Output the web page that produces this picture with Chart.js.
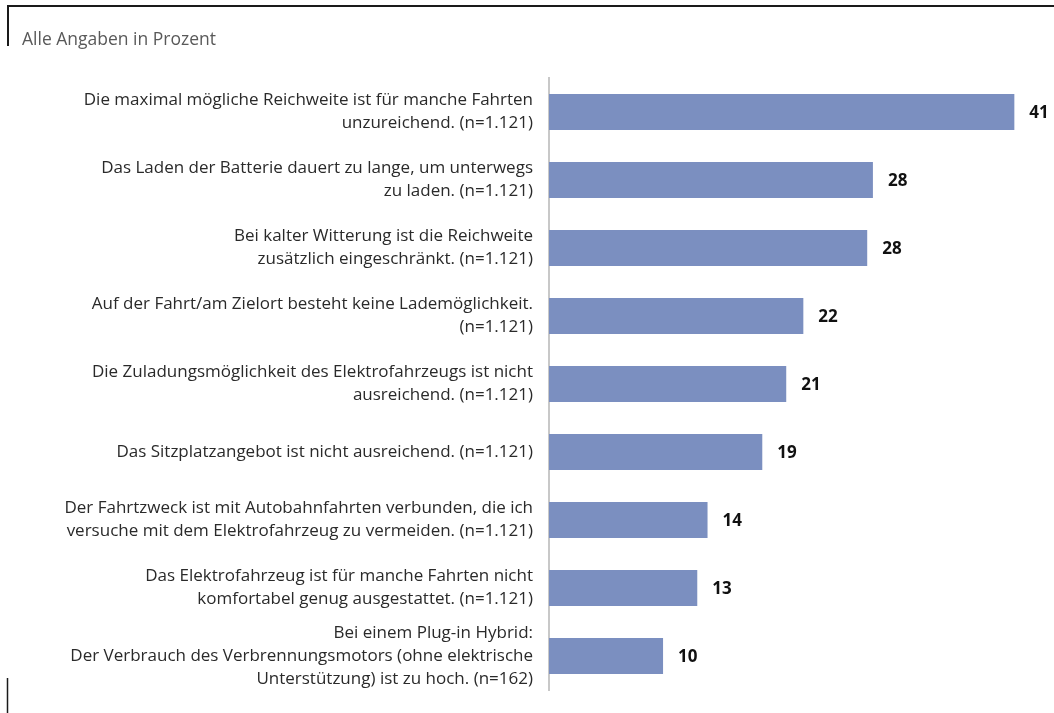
<!DOCTYPE html>
<html>
<head>
<meta charset="utf-8">
<script src="https://cdn.jsdelivr.net/npm/chart.js@4"></script>
<style>
  html, body { margin: 0; padding: 0; background: #fff; }
  #wrap { width: 1054px; height: 713px; position: relative; }
</style>
</head>
<body>
<div id="wrap"><canvas id="c" width="1054" height="713"></canvas></div>
<script>
const categories = [
  ["Die maximal mögliche Reichweite ist für manche Fahrten", "unzureichend. (n=1.121)"],
  ["Das Laden der Batterie dauert zu lange, um unterwegs", "zu laden. (n=1.121)"],
  ["Bei kalter Witterung ist die Reichweite", "zusätzlich eingeschränkt. (n=1.121)"],
  ["Auf der Fahrt/am Zielort besteht keine Lademöglichkeit.", "(n=1.121)"],
  ["Die Zuladungsmöglichkeit des Elektrofahrzeugs ist nicht", "ausreichend. (n=1.121)"],
  ["Das Sitzplatzangebot ist nicht ausreichend. (n=1.121)"],
  ["Der Fahrtzweck ist mit Autobahnfahrten verbunden, die ich", "versuche mit dem Elektrofahrzeug zu vermeiden. (n=1.121)"],
  ["Das Elektrofahrzeug ist für manche Fahrten nicht", "komfortabel genug ausgestattet. (n=1.121)"],
  ["Bei einem Plug-in Hybrid:", "Der Verbrauch des Verbrennungsmotors (ohne elektrische", "Unterstützung) ist zu hoch. (n=162)"]
];
const values = [40.8, 28.4, 27.9, 22.3, 20.8, 18.7, 13.9, 13.0, 10.0];
const valueLabels = ["41", "28", "28", "22", "21", "19", "14", "13", "10"];
const subtitle = "Alle Angaben in Prozent";

const framePlugin = {
  id: 'frame',
  beforeDraw(chart) {
    const ctx = chart.ctx;
    ctx.save();
    ctx.fillStyle = '#fff';
    ctx.fillRect(0, 0, chart.width, chart.height);
    ctx.strokeStyle = '#1a1a1a';
    ctx.lineWidth = 2;
    ctx.beginPath();
    ctx.moveTo(7, 6); ctx.lineTo(1054, 6);
    ctx.moveTo(8, 5); ctx.lineTo(8, 46);
    ctx.stroke();
    ctx.lineWidth = 1.5;
    ctx.beginPath();
    ctx.moveTo(7.5, 678); ctx.lineTo(7.5, 713);
    ctx.stroke();
    ctx.restore();
  }
};

const valueLabelPlugin = {
  id: 'valueLabels',
  afterDatasetsDraw(chart) {
    const ctx = chart.ctx;
    const meta = chart.getDatasetMeta(0);
    ctx.save();
    ctx.font = "bold 17px 'Open Sans'";
    ctx.fillStyle = '#111';
    ctx.textAlign = 'left';
    ctx.textBaseline = 'middle';
    meta.data.forEach((bar, i) => {
      ctx.fillText(valueLabels[i], bar.x + 15, bar.y + 1);
    });
    ctx.restore();
  }
};

new Chart(document.getElementById('c'), {
  type: 'bar',
  data: {
    labels: categories,
    datasets: [{
      data: values,
      backgroundColor: '#7b8fc0',
      borderWidth: 0,
      categoryPercentage: 1,
      barPercentage: 0.53
    }]
  },
  options: {
    indexAxis: 'y',
    responsive: false,
    animation: false,
    devicePixelRatio: 1,
    layout: { padding: { left: 22, right: 10, top: 0, bottom: 23 } },
    plugins: {
      legend: { display: false },
      tooltip: { enabled: false },
      title: {
        display: true,
        text: subtitle,
        align: 'start',
        color: '#595959',
        font: { family: 'Open Sans', size: 17.5, weight: 'normal', lineHeight: 1.2 },
        padding: { top: 30, bottom: 27 }
      }
    },
    scales: {
      x: {
        display: false,
        min: 0,
        max: 43.4
      },
      y: {
        afterFit(scale) {
          scale.width = 527;
          scale.paddingTop = 0;
          scale.paddingBottom = 0;
        },
        grid: { display: false, drawTicks: false },
        border: { display: true, color: '#c8c8c8', width: 2 },
        ticks: {
          autoSkip: false,
          color: '#2a2a2a',
          padding: 16,
          font: { family: 'Open Sans', size: 17, lineHeight: 1.34 }
        }
      }
    }
  },
  plugins: [framePlugin, valueLabelPlugin]
});
</script>
</body>
</html>
